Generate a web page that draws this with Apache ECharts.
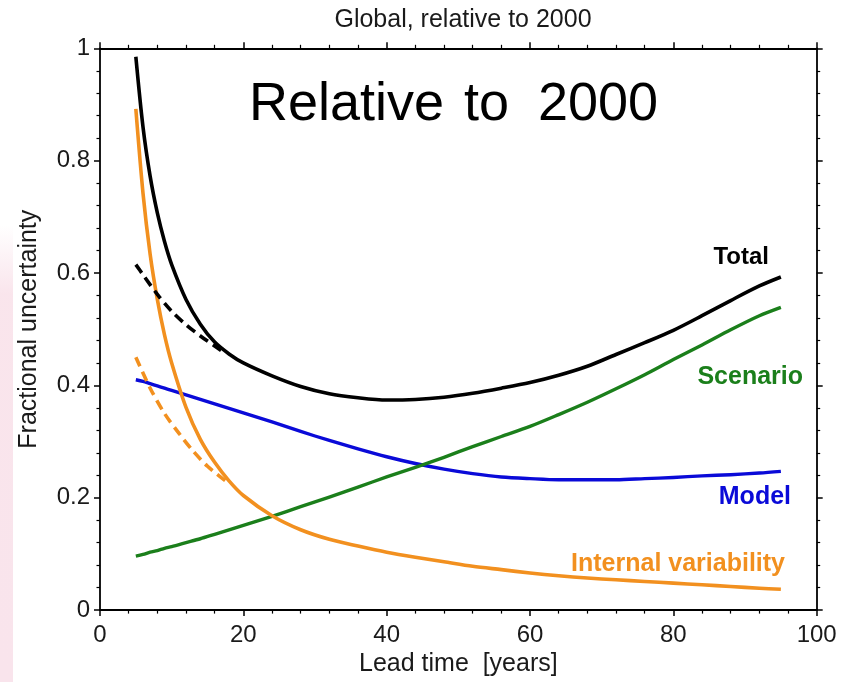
<!DOCTYPE html>
<html>
<head>
<meta charset="utf-8">
<script src="https://cdn.jsdelivr.net/npm/echarts@6/dist/echarts.min.js"></script>
<style>
html,body{margin:0;padding:0;background:#fff;}
#chart{width:857px;height:682px;}
</style>
</head>
<body>
<div id="chart"></div>
<script>
// ---- data ----
const leadTime = [5,6,7,8,9,10,12,14,16,18,20,24,28,32,36,40,44,48,52,56,60,64,68,72,76,80,84,88,92,95];
const total    = [0.985,0.860,0.772,0.707,0.656,0.615,0.553,0.509,0.477,0.456,0.440,0.417,0.398,0.385,0.378,0.374,0.375,0.379,0.386,0.395,0.405,0.418,0.434,0.455,0.476,0.498,0.524,0.551,0.577,0.593];
const scenario = [0.096,0.099,0.103,0.106,0.110,0.113,0.120,0.127,0.135,0.143,0.151,0.167,0.184,0.201,0.219,0.237,0.254,0.272,0.291,0.309,0.327,0.348,0.370,0.394,0.419,0.446,0.472,0.499,0.524,0.539];
const model    = [0.410,0.407,0.403,0.399,0.395,0.391,0.383,0.375,0.367,0.359,0.351,0.335,0.318,0.302,0.287,0.273,0.261,0.251,0.243,0.237,0.234,0.232,0.232,0.232,0.234,0.236,0.239,0.241,0.244,0.247];
const internal = [0.892,0.742,0.633,0.553,0.490,0.440,0.361,0.304,0.263,0.230,0.204,0.168,0.143,0.126,0.114,0.103,0.094,0.086,0.078,0.072,0.066,0.061,0.057,0.054,0.051,0.048,0.045,0.042,0.039,0.037];
const totalDashX    = [5,6,8,10,12,14,16,17.5];
const totalDash     = [0.615,0.597,0.562,0.532,0.508,0.488,0.470,0.457];
const internalDashX = [5,7,9,11,13,15,17.5];
const internalDash  = [0.45,0.395,0.35,0.315,0.283,0.256,0.23];
const seriesNames = ['Total','Scenario','Model','Internal variability'];
const titleText = 'Global, relative to 2000';
const xName = 'Lead time  [years]';
const yName = 'Fractional uncertainty';

const zip = (xs, ys) => xs.map((x, i) => [x, ys[i]]);

const FONT = '"Liberation Sans", Arial, Helvetica, sans-serif';
const C_BLACK = '#000000', C_GREEN = '#1b7f1b', C_BLUE = '#0a0ad8', C_ORANGE = '#f2901f';

const axisCommon = {
  type: 'value',
  axisLine: { show: true, onZero: false, lineStyle: { color: '#000', width: 1.8 } },
  axisTick: { show: true, inside: false, length: 6, lineStyle: { color: '#000', width: 1.5 } },
  minorTick: { show: true, splitNumber: 5, length: 3.5, lineStyle: { color: '#000', width: 1.2 } },
  splitLine: { show: false },
  minorSplitLine: { show: false }
};

const chart = echarts.init(document.getElementById('chart'), null, { renderer: 'canvas' });

const line = (name, data, color, width, dash, z) => ({
  name, type: 'line', data, symbol: 'none', showSymbol: false,
  smooth: 0.3,
  xAxisIndex: 0, yAxisIndex: 0, z: z || 2,
  lineStyle: { color, width, type: dash || 'solid', cap: 'butt', join: 'round' },
  emphasis: { disabled: true }, silent: true
});

const option = {
  animation: false,
  backgroundColor: '#ffffff',
  title: {
    text: titleText, left: 458, top: 3, textAlign: 'center',
    textStyle: { fontFamily: FONT, fontSize: 25, fontWeight: 'normal', color: '#1a1a1a' }
  },
  grid: { left: 100, right: 40.3, top: 48.3, bottom: 69.3, containLabel: false },
  xAxis: [
    Object.assign({}, axisCommon, {
      position: 'bottom', min: 0, max: 100, interval: 20,
      name: xName, nameLocation: 'middle', nameGap: 35,
      nameTextStyle: { fontFamily: FONT, fontSize: 25, color: '#1a1a1a' },
      axisLabel: { margin: 13, fontFamily: FONT, fontSize: 24, color: '#1a1a1a' }
    }),
    Object.assign({}, axisCommon, {
      position: 'top', min: 0, max: 100, interval: 20, axisLabel: { show: false }
    })
  ],
  yAxis: [
    Object.assign({}, axisCommon, {
      position: 'left', min: 0, max: 1, interval: 0.2,
      name: yName, nameLocation: 'middle', nameGap: 58, nameRotate: 90,
      nameTextStyle: { fontFamily: FONT, fontSize: 25, color: '#1a1a1a' },
      axisLabel: { margin: 10, fontFamily: FONT, fontSize: 24, color: '#1a1a1a' }
    }),
    Object.assign({}, axisCommon, {
      position: 'right', min: 0, max: 1, interval: 0.2, axisLabel: { show: false }
    })
  ],
  series: [
    line(seriesNames[2], zip(leadTime, model), C_BLUE, 3.4, 'solid', 2),
    line(seriesNames[1], zip(leadTime, scenario), C_GREEN, 3.4, 'solid', 3),
    line(seriesNames[3], zip(leadTime, internal), C_ORANGE, 3.6, 'solid', 4),
    line(seriesNames[3] + ' (dashed)', zip(internalDashX, internalDash), C_ORANGE, 3.6, [10, 6], 4),
    line(seriesNames[0] + ' (dashed)', zip(totalDashX, totalDash), C_BLACK, 3.6, [10, 6], 5),
    line(seriesNames[0], zip(leadTime, total), C_BLACK, 3.6, 'solid', 5)
  ],
  graphic: [
    {
      type: 'rect', z: -10, silent: true,
      shape: { x: 0, y: 225, width: 13, height: 457 },
      style: {
        fill: new echarts.graphic.LinearGradient(0, 0, 0, 1, [
          { offset: 0, color: 'rgba(249,226,234,0)' },
          { offset: 0.15, color: 'rgba(249,226,234,0.9)' },
          { offset: 1, color: 'rgba(249,228,236,1)' }
        ])
      }
    },
    { type: 'text', z: 20, silent: true, x: 249, y: 105,
      style: { text: 'Relative', font: '54px ' + FONT, fill: '#000', align: 'left', verticalAlign: 'middle' } },
    { type: 'text', z: 20, silent: true, x: 464, y: 105,
      style: { text: 'to', font: '54px ' + FONT, fill: '#000', align: 'left', verticalAlign: 'middle' } },
    { type: 'text', z: 20, silent: true, x: 538, y: 105,
      style: { text: '2000', font: '54px ' + FONT, fill: '#000', align: 'left', verticalAlign: 'middle' } },
    { type: 'text', z: 20, silent: true, x: 769, y: 257,
      style: { text: seriesNames[0], font: 'bold 24px ' + FONT, fill: C_BLACK, align: 'right', verticalAlign: 'middle' } },
    { type: 'text', z: 20, silent: true, x: 803, y: 377,
      style: { text: seriesNames[1], font: 'bold 25px ' + FONT, fill: C_GREEN, align: 'right', verticalAlign: 'middle' } },
    { type: 'text', z: 20, silent: true, x: 791, y: 497,
      style: { text: seriesNames[2], font: 'bold 25px ' + FONT, fill: C_BLUE, align: 'right', verticalAlign: 'middle' } },
    { type: 'text', z: 20, silent: true, x: 785, y: 564,
      style: { text: seriesNames[3], font: 'bold 25px ' + FONT, fill: C_ORANGE, align: 'right', verticalAlign: 'middle' } }
  ]
};

chart.setOption(option);
</script>
</body>
</html>
